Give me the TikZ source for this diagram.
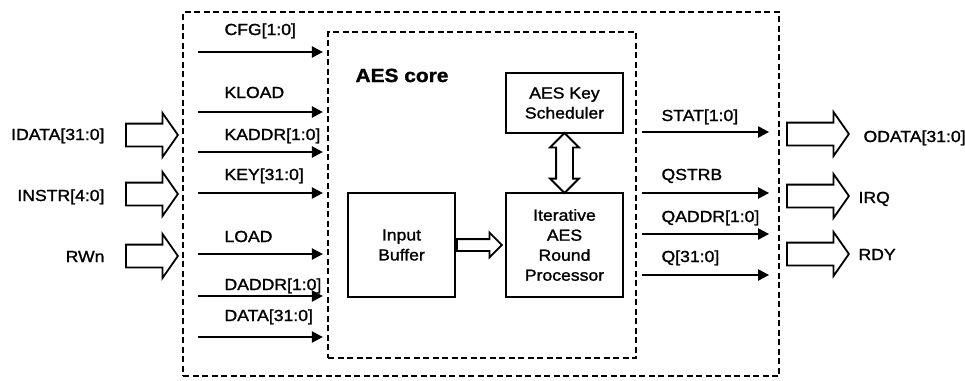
\documentclass[tikz,border=0pt]{standalone}
\usepackage{fontspec}
\setmainfont{Liberation Sans}[FakeStretch=1.1,FakeBold=1.4]
\usetikzlibrary{arrows.meta,shapes.arrows,calc}

\begin{document}
\begin{tikzpicture}[x=1pt,y=-1pt,
  sigfont/.style={font=\fontsize{16}{20}\selectfont},
  dashbox/.style={draw,line width=2.2pt,dash pattern=on 6pt off 3.5pt,inner sep=0pt},
  block/.style={draw,line width=2pt,inner sep=0pt,align=center,sigfont},
  sig/.style={line width=2.2pt,-{Triangle[length=11pt,width=11pt]}},
  portarrow/.style={single arrow,draw,line width=1.8pt,inner xsep=0pt,inner ysep=10.5pt,
                    single arrow head extend=10.5pt,single arrow tip angle=110},
  busarrow/.style={single arrow,draw,line width=1.8pt,inner xsep=0pt,inner ysep=5pt,
                   single arrow head extend=6.5pt,single arrow tip angle=90},
  keybusarrow/.style={double arrow,draw,line width=1.8pt,inner xsep=0pt,inner ysep=7.5pt,
                      double arrow head extend=6pt,double arrow tip angle=90}]
  \useasboundingbox (0,0) rectangle (965,380);

  % chip and core outlines
  \node[dashbox,minimum width=596pt,minimum height=364pt] (chip) at (481,194) {};
  \node[dashbox,minimum width=308pt,minimum height=326pt] (core) at (482,195) {};
  \node[font=\fontsize{19}{22}\selectfont\bfseries,anchor=base west] (corelbl)
    at (352,82) {AES core};

  % blocks
  \node[block,minimum width=117pt,minimum height=60pt]  (keysch) at (564.5,103) {AES Key\\Scheduler};
  \node[block,minimum width=117pt,minimum height=104pt] (rounds) at (564.5,245) {Iterative\\AES\\Round\\Processor};
  \node[block,minimum width=107pt,minimum height=104pt] (inbuf)  at (401.5,245) {Input\\Buffer};

  % internal buses
  \node[busarrow,anchor=tail,minimum height=45pt] (bufbus) at (inbuf.east) {};
  \node[keybusarrow,rotate=90,minimum height=60pt] (keybus)
    at ($(keysch.south)!0.5!(rounds.north)$) {};

  % signals into the core
  \foreach \sy/\by/\txt [count=\i] in {52/35/CFG[1:0],112/98/KLOAD,152/140/KADDR[1:0],
      193/180/KEY[31:0],254/242/LOAD,296/290/DADDR[1:0],337/321/DATA[31:0]} {
    \coordinate (kin\i) at (198,\sy);
    \draw[sig,shorten >=4pt] (kin\i) -- (kin\i -| core.west);
    \node[sigfont,anchor=base west] (kinl\i) at (221,\by) {\txt};
  }

  % signals out of the core
  \foreach \sy/\by/\txt [count=\i] in {132/121/STAT[1:0],193/180/QSTRB,
      234/222/QADDR[1:0],275/262/Q[31:0]} {
    \coordinate (qout\i) at (642,\sy);
    \draw[sig,shorten >=11pt] (qout\i) -- (qout\i -| chip.east);
    \node[sigfont,anchor=base west] (qoutl\i) at (658,\by) {\txt};
  }

  % chip ports
  \foreach \py/\by/\txt [count=\i] in {135/140/IDATA[31:0],194/201/INSTR[4:0],256/262/RWn} {
    \node[portarrow,anchor=tip,minimum height=52pt] (pin\i) at (179,\py) {};
    \node[sigfont,anchor=base east] (pinl\i) at (108,\by) {\txt};
  }
  \foreach \py/\by/\lx/\txt [count=\i] in {134/142/860/ODATA[31:0],196/203/855/IRQ,254/260/855/RDY} {
    \node[portarrow,anchor=tail,minimum height=62pt] (pout\i) at (786,\py) {};
    \node[sigfont,anchor=base west] (poutl\i) at (\lx,\by) {\txt};
  }
\end{tikzpicture}
\end{document}
